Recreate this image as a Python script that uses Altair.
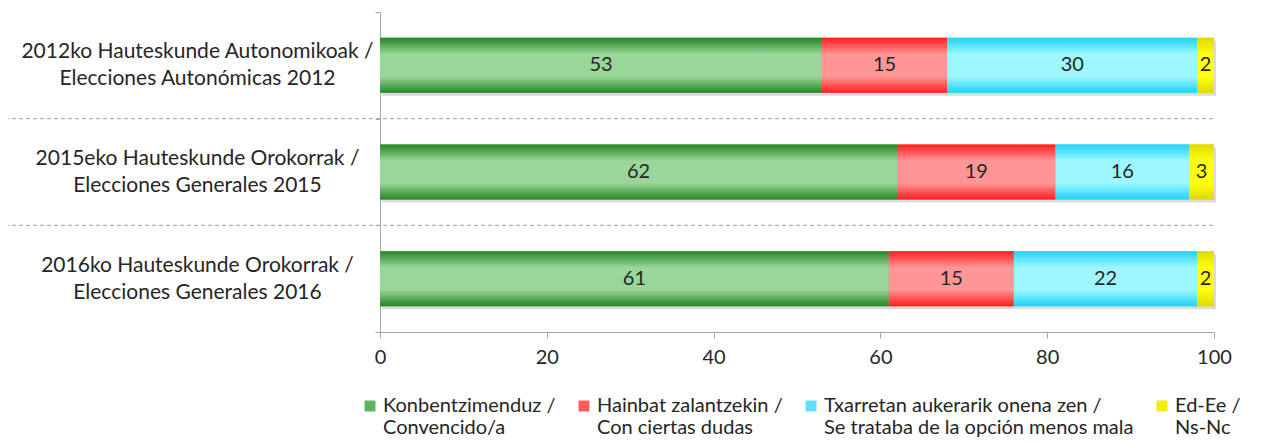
import altair as alt
import pandas as pd

categories = [
    "2012ko Hauteskunde Autonomikoak /|Elecciones Autonómicas 2012",
    "2015eko Hauteskunde Orokorrak /|Elecciones Generales 2015",
    "2016ko Hauteskunde Orokorrak /|Elecciones Generales 2016",
]
series = [
    "Konbentzimenduz /|Convencido/a",
    "Hainbat zalantzekin /|Con ciertas dudas",
    "Txarretan aukerarik onena zen /|Se trataba de la opción menos mala",
    "Ed-Ee /|Ns-Nc",
]
convencido = [53, 62, 61]
dudas = [15, 19, 15]
menos_mala = [30, 16, 22]
nsnc = [2, 3, 2]
x_ticks = [0, 20, 40, 60, 80, 100]

flat_colors = ["#5CB55C", "#FF5C5C", "#5EE2FA", "#F2EE00"]
grad_pairs = [("#258625", "#9AD69A"), ("#FF1E1E", "#FF9696"),
              ("#1FD2F7", "#9EF7FF"), ("#E0D800", "#FFFF10")]

rows = []
for si, vals in enumerate([convencido, dudas, menos_mala, nsnc]):
    for ci, cat in enumerate(categories):
        rows.append({"cat": cat, "series": series[si], "order": si, "value": vals[ci]})
df = pd.DataFrame(rows)
sep = pd.DataFrame({"cat": categories[1:]})

FONT = "Lato"
TXT = "#262626"
AX = "#A6A6A6"

y_scale = alt.Scale(domain=categories, paddingInner=0, paddingOuter=0)
x_scale = alt.Scale(domain=[0, 100], nice=False)

y_axis = alt.Axis(
    title=None,
    labelExpr="split(datum.label, '|')",
    labelAlign="center",
    labelBaseline="middle",
    labelLineHeight=27,
    labelOffset=-13.5,
    labelFontSize=21,
    labelColor=TXT,
    labelFont=FONT,
    labelPadding=178,
    tickBand="extent",
    tickSize=5,
    tickColor=AX,
    domainColor=AX,
    labelLimit=500,
)
x_axis = alt.Axis(
    title=None,
    values=x_ticks,
    grid=False,
    tickSize=6,
    tickColor=AX,
    domainColor=AX,
    labelFontSize=20,
    labelColor=TXT,
    labelFont=FONT,
    labelPadding=9,
    labelFlush=False,
)

y_enc = alt.Y("cat:N", sort=categories, scale=y_scale, axis=y_axis)

base = alt.Chart(df).transform_stack(
    stack="value", as_=["x0", "x1"], groupby=["cat"], sort=[alt.SortField("order")]
)

BAR_H = {"band": 0.516}

shadow = alt.Chart(df).transform_aggregate(total="sum(value)", groupby=["cat"]).mark_bar(
    height=BAR_H, color="#bdbdbd", opacity=0.55, yOffset=3, xOffset=2
).encode(
    x=alt.X("total:Q", scale=x_scale, axis=x_axis), y=y_enc
)

flat = base.mark_bar(height=BAR_H).encode(
    x=alt.X("x0:Q", scale=x_scale, axis=x_axis),
    x2="x1:Q",
    y=y_enc,
    color=alt.Color(
        "series:N",
        scale=alt.Scale(domain=series, range=flat_colors),
        sort=series,
        legend=alt.Legend(
            title=None,
            orient="none",
            direction="horizontal",
            legendX=-20,
            legendY=384,
            labelExpr="split(datum.label, '|')",
            labelFontSize=20,
            labelFont=FONT,
            labelColor=TXT,
            labelLimit=600,
            labelOffset=3,
            symbolType="square",
            symbolSize=120,
            symbolStrokeWidth=0,
            columnPadding=18,
            padding=0,
        ),
    ),
)

layers = [shadow, flat]
for si, (dark, light) in enumerate(grad_pairs):
    grad = {
        "gradient": "linear",
        "x1": 0, "y1": 0, "x2": 0, "y2": 1,
        "stops": [
            {"offset": 0, "color": dark},
            {"offset": 0.3, "color": light},
            {"offset": 0.7, "color": light},
            {"offset": 1, "color": dark},
        ],
    }
    layers.append(
        base.transform_filter(alt.datum.order == si).mark_bar(height=BAR_H, color=grad).encode(
            x=alt.X("x0:Q", scale=x_scale, axis=x_axis), x2="x1:Q", y=y_enc
        )
    )

labels = base.transform_calculate(mid="(datum.x0 + datum.x1) / 2").mark_text(
    fontSize=20, font=FONT, color=TXT
).encode(
    x=alt.X("mid:Q", scale=x_scale, axis=x_axis), y=y_enc, text="value:Q"
)
layers.append(labels)

rules = alt.Chart(sep).mark_rule(strokeDash=[4, 3], color="#A0A0A0", strokeWidth=1).encode(
    y=alt.Y("cat:N", sort=categories, scale=y_scale, axis=y_axis, bandPosition=0),
    x=alt.value(-375),
    x2=alt.value(833),
)
layers.append(rules)

chart = alt.layer(*layers).properties(
    width=834,
    height=320,
    padding={"left": 372, "top": 4, "right": 39, "bottom": 105},
    autosize=alt.AutoSizeParams(type="none"),
).configure(font=FONT).configure_view(stroke=None)

chart.save("out.html", embed_options={"renderer": "svg", "actions": False})
